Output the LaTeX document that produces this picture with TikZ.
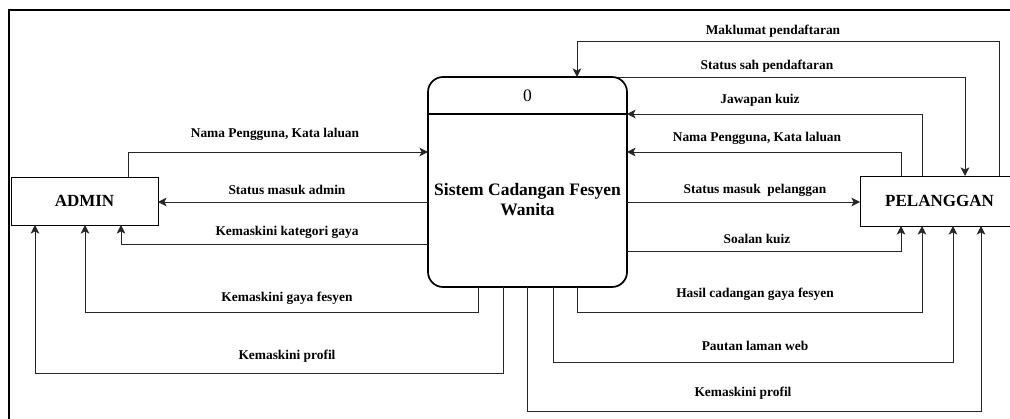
\documentclass[tikz,border=0pt]{standalone}
\usepackage{fontspec}
\setmainfont{Liberation Serif}
\usepackage{tikz}
\usetikzlibrary{positioning,arrows.meta}
\usetikzlibrary{calc}
\tikzset{
  entiti/.style = {rectangle, draw=black, line width=0.9pt, inner sep=0pt,
    outer sep=0pt, font=\bfseries\fontsize{17}{20}\selectfont},
  proses/.style = {rectangle, rounded corners=15pt, draw=black, line width=1.7pt,
    inner sep=0pt, outer sep=0pt, minimum width=199pt, minimum height=210pt},
  aliran/.style = {->, draw=black!85, line width=0.9pt},
  teks/.style = {align=center, inner sep=0pt, font=\bfseries\fontsize{13.4}{15}\selectfont}
}

\begin{document}
\begin{tikzpicture}[x=1pt,y=-1pt,>={Stealth[length=8.5pt,width=8.5pt,inset=2pt]}]
\useasboundingbox (0,0) rectangle (1010,419);
\clip (0,0) rectangle (1010,419);
% bingkai luar
\draw[line width=1.8pt] (9,10) rectangle (1040,450);

\node [entiti, minimum width=147pt, minimum height=48pt] (admin) at (84.5,201) {ADMIN};
\node [entiti, minimum width=159pt, minimum height=50pt] (pelanggan) at (939.5,201) {PELANGGAN};
\node [proses] (sistem) at (527.5,182) {};
\draw[line width=1.7pt] (sistem.west |- 0,114) -- (sistem.east |- 0,114);
\node [teks, font=\fontsize{17.5}{20}\selectfont] (nombor) at (527.5,96) {0};
\node [teks, font=\bfseries\fontsize{17.5}{20}\selectfont] (nama) at (527.5,200)
  {Sistem Cadangan Fesyen\\Wanita};

% aliran ADMIN
\draw[aliran] (admin.north -| 128,0) |- (sistem.west |- 0,152);
\draw[aliran] (sistem.west |- 0,202) -- (admin.east |- 0,202);
\draw[aliran] (sistem.west |- 0,244) -| (admin.south -| 121,0);
\draw[aliran] (sistem.south -| 478,0) -- (478,312) -| (admin.south -| 85,0);
\draw[aliran] (sistem.south -| 503,0) -- (503,373) -| (admin.south -| 35,0);

\node [teks] (a1) at (275,134) {Nama Pengguna, Kata laluan};
\node [teks] (a2) at (287,190) {Status masuk admin};
\node [teks] (a3) at (287,232) {Kemaskini kategori gaya};
\node [teks] (a4) at (287,298) {Kemaskini gaya fesyen};
\node [teks] (a5) at (287,356) {Kemaskini profil};

% aliran PELANGGAN
\draw[aliran] (pelanggan.north -| 999,0) |- (577,41) -- (sistem.north -| 577,0);
\draw[aliran] ([xshift=-9pt]sistem.north east) -| (pelanggan.north -| 965,0);
\draw[aliran] (pelanggan.north -| 922,0) |- (sistem.east |- 0,114);
\draw[aliran] (pelanggan.north -| 901,0) |- (sistem.east |- 0,152);
\draw[aliran] (sistem.east |- 0,202) -- (pelanggan.west |- 0,202);
\draw[aliran] (sistem.east |- 0,251) -| (pelanggan.south -| 901,0);
\draw[aliran] (sistem.south -| 577,0) -- (577,312) -| (pelanggan.south -| 922,0);
\draw[aliran] (sistem.south -| 553,0) -- (553,362) -| (pelanggan.south -| 953,0);
\draw[aliran] (sistem.south -| 527,0) -- (527,411) -| (pelanggan.south -| 981,0);

\node [teks] (p1) at (773,31) {Maklumat pendaftaran};
\node [teks] (p2) at (767,66) {Status sah pendaftaran};
\node [teks] (p3) at (760,100) {Jawapan kuiz};
\node [teks] (p4) at (757,138) {Nama Pengguna, Kata laluan};
\node [teks] (p5) at (755,190) {Status masuk\ \ pelanggan};
\node [teks] (p6) at (757,239) {Soalan kuiz};
\node [teks] (p7) at (755,294) {Hasil cadangan gaya fesyen};
\node [teks] (p8) at (755,346) {Pautan laman web};
\node [teks] (p9) at (743,393) {Kemaskini profil};
\end{tikzpicture}
\end{document}
